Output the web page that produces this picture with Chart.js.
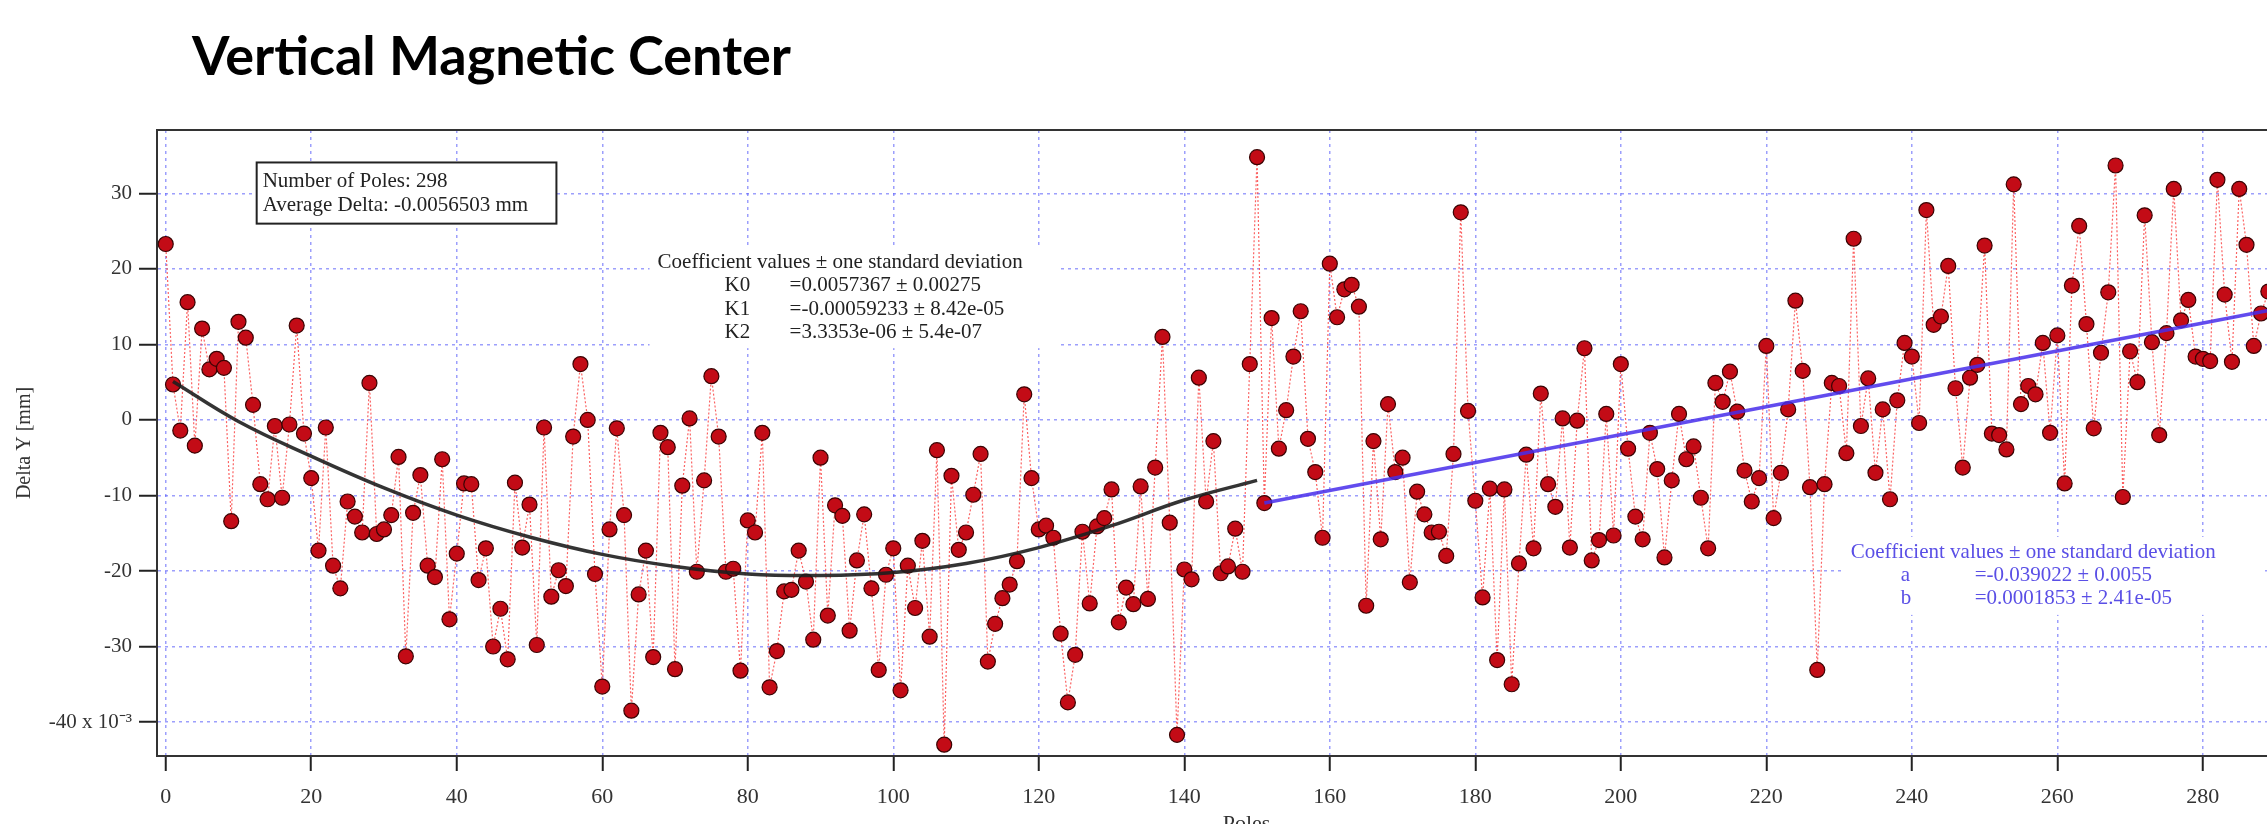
<!DOCTYPE html>
<html>
<head>
<meta charset="utf-8">
<title>Vertical Magnetic Center</title>
<script src="https://cdn.jsdelivr.net/npm/chart.js@4.4.1/dist/chart.umd.min.js"></script>
<style>
  html, body { margin: 0; padding: 0; background: #fff; overflow: hidden; }
  #wrap { position: absolute; left: 0; top: 0; width: 2350px; height: 850px; }
  #title {
    position: absolute; left: 192px; top: 28px;
    font: bold 54px Lato, "Open Sans", sans-serif; line-height: 54px;
    color: #000; white-space: nowrap;
  }
</style>
</head>
<body>
<div id="wrap"><canvas id="myChart"></canvas></div>
<div id="title">Vertical Magnetic Center</div>
<script>
// Delta Y per pole (x 10^-3 mm), pole number = index in the array
const deltaY = [
  23.3, 4.7, -1.4, 15.6, -3.4, 12.1, 6.7, 8.1, 6.9, -13.4,
  13.0, 10.9, 2.0, -8.5, -10.5, -0.8, -10.3, -0.6, 12.5, -1.8,
  -7.7, -17.3, -1.0, -19.3, -22.3, -10.8, -12.8, -14.9, 4.9, -15.1,
  -14.5, -12.6, -4.9, -31.3, -12.3, -7.3, -19.3, -20.8, -5.2, -26.4,
  -17.7, -8.4, -8.5, -21.2, -17.0, -30.0, -25.0, -31.7, -8.3, -16.9,
  -11.2, -29.8, -1.0, -23.4, -19.9, -22.0, -2.2, 7.4, 0.0, -20.4,
  -35.3, -14.5, -1.1, -12.6, -38.5, -23.1, -17.3, -31.4, -1.7, -3.6,
  -33.0, -8.7, 0.2, -20.1, -8.0, 5.8, -2.2, -20.1, -19.7, -33.2,
  -13.3, -14.9, -1.7, -35.4, -30.6, -22.7, -22.5, -17.3, -21.4, -29.1,
  -5.0, -25.9, -11.3, -12.7, -27.9, -18.6, -12.5, -22.3, -33.1, -20.5,
  -17.0, -35.8, -19.3, -24.9, -16.0, -28.7, -4.0, -43.0, -7.4, -17.2,
  -14.9, -9.9, -4.5, -32.0, -27.0, -23.6, -21.8, -18.7, 3.4, -7.7,
  -14.5, -14.0, -15.6, -28.3, -37.4, -31.1, -14.8, -24.3, -14.1, -13.0,
  -9.2, -26.8, -22.2, -24.4, -8.8, -23.7, -6.3, 11.0, -13.6, -41.7,
  -19.8, -21.1, 5.6, -10.8, -2.8, -20.3, -19.4, -14.4, -20.1, 7.4,
  34.8, -11.0, 13.5, -3.8, 1.3, 8.4, 14.4, -2.5, -6.9, -15.6,
  20.7, 13.6, 17.3, 17.9, 15.0, -24.6, -2.8, -15.8, 2.1, -6.9,
  -5.0, -21.5, -9.5, -12.5, -14.9, -14.8, -18.0, -4.5, 27.5, 1.2,
  -10.7, -23.5, -9.1, -31.8, -9.2, -35.0, -19.0, -4.6, -17.0, 3.5,
  -8.5, -11.5, 0.2, -16.9, -0.1, 9.5, -18.6, -15.9, 0.8, -15.3,
  7.4, -3.8, -12.8, -15.8, -1.7, -6.5, -18.2, -8.0, 0.8, -5.2,
  -3.5, -10.3, -17.0, 4.9, 2.4, 6.4, 1.1, -6.7, -10.8, -7.7,
  9.8, -13.0, -7.0, 1.4, 15.8, 6.5, -8.9, -33.1, -8.5, 4.9,
  4.5, -4.4, 24.0, -0.8, 5.5, -7.0, 1.4, -10.5, 2.6, 10.2,
  8.4, -0.4, 27.8, 12.6, 13.7, 20.4, 4.2, -6.3, 5.6, 7.3,
  23.1, -1.8, -2.0, -3.9, 31.2, 2.1, 4.5, 3.4, 10.2, -1.7,
  11.2, -8.4, 17.8, 25.7, 12.7, -1.1, 8.9, 16.9, 33.7, -10.2,
  9.1, 5.0, 27.1, 10.3, -2.0, 11.5, 30.6, 13.2, 15.9, 8.4,
  8.1, 7.8, 31.8, 16.6, 7.7, 30.6, 23.2, 9.8, 14.1, 17.0,
];

// black curve (quadratic fit, poles 1-150)
const quadFitPoles = [1, 10, 20, 30, 40, 50, 60, 70, 80, 90, 100, 110, 120, 130, 140, 150];
const quadFitValues = [5.1, -0.2, -4.8, -9.0, -12.6, -15.5, -17.8, -19.4, -20.4, -20.6, -20.2, -19.0, -16.9, -14.0, -10.6, -8.0];

// blue line (linear fit, poles 151 onwards)
const linFitPoles = [151, 289];
const linFitValues = [-11.0, 14.5];

const xTickValues = [0, 20, 40, 60, 80, 100, 120, 140, 160, 180, 200, 220, 240, 260, 280];
const yTickValues = [-40, -30, -20, -10, 0, 10, 20, 30];

const infoLines = ["Number of Poles: 298", "Average Delta: -0.0056503 mm"];
const quadCoefs = [
  ["K0", "=0.0057367 \u00b1 0.00275"],
  ["K1", "=-0.00059233 \u00b1 8.42e-05"],
  ["K2", "=3.3353e-06 \u00b1 5.4e-07"],
];
const linCoefs = [
  ["a", "=-0.039022 \u00b1 0.0055"],
  ["b", "=0.0001853 \u00b1 2.41e-05"],
];
const coefHeader = "Coefficient values \u00b1 one standard deviation";

Chart.defaults.font.family = '"Liberation Serif", "Times New Roman", serif';
Chart.defaults.color = "#333";

// text boxes of the original graph + top/right frame
const notesPlugin = {
  id: "notes",
  afterDatasetsDraw(chart) {
    const { ctx, chartArea: area, scales: { x, y } } = chart;
    ctx.save();
    ctx.strokeStyle = "#333";
    ctx.lineWidth = 2;
    ctx.beginPath();
    ctx.moveTo(area.left, area.top);
    ctx.lineTo(area.right, area.top);
    ctx.lineTo(area.right, area.bottom);
    ctx.stroke();

    ctx.font = '21px "Liberation Serif"';
    ctx.textBaseline = "middle";
    ctx.textAlign = "left";

    // poles / average box
    let l = x.getPixelForValue(12.5), t = y.getPixelForValue(34.1);
    let r = x.getPixelForValue(53.7), b = y.getPixelForValue(26.0);
    ctx.fillStyle = "#fff";
    ctx.fillRect(l, t, r - l, b - t);
    ctx.lineWidth = 2;
    ctx.strokeStyle = "#222";
    ctx.strokeRect(l, t, r - l, b - t);
    ctx.fillStyle = "#222";
    infoLines.forEach((s, i) => ctx.fillText(s, l + 6, t + 19 + i * 24));

    // quadratic fit coefficients
    l = x.getPixelForValue(67.6);
    t = y.getPixelForValue(20.9);
    ctx.fillStyle = "#fff";
    ctx.fillRect(l - 8, t - 16, 410, 102);
    ctx.fillStyle = "#222";
    ctx.fillText(coefHeader, l, t);
    quadCoefs.forEach((c, i) => {
      ctx.fillText(c[0], l + 67, t + 23.5 * (i + 1));
      ctx.fillText(c[1], l + 132, t + 23.5 * (i + 1));
    });

    // linear fit coefficients
    l = x.getPixelForValue(231.6);
    t = y.getPixelForValue(-17.6);
    ctx.fillStyle = "#fff";
    ctx.fillRect(l - 8, t - 16, 420, 78);
    ctx.fillStyle = "#5a4fe6";
    ctx.fillText(coefHeader, l, t);
    linCoefs.forEach((c, i) => {
      ctx.fillText(c[0], l + 50, t + 23 * (i + 1));
      ctx.fillText(c[1], l + 124, t + 23 * (i + 1));
    });
    ctx.restore();
  },
};

const gridStyle = {
  color: "rgba(90, 95, 250, 0.6)",
  lineWidth: 1.5,
  tickColor: "#222",
  tickWidth: 2,
  tickBorderDash: [],
};

const ctx = document.getElementById("myChart");
const myChart = new Chart(ctx, {
  type: "scatter",
  data: {
    datasets: [
      {
        label: "Quadratic fit",
        data: quadFitPoles.map((p, i) => ({ x: p, y: quadFitValues[i] })),
        showLine: true,
        borderColor: "rgba(30, 30, 30, 0.9)",
        borderWidth: 3.5,
        tension: 0.4,
        pointRadius: 0,
      },
      {
        label: "Linear fit",
        data: linFitPoles.map((p, i) => ({ x: p, y: linFitValues[i] })),
        showLine: true,
        borderColor: "rgba(70, 45, 235, 0.85)",
        borderWidth: 3.5,
        pointRadius: 0,
      },
      {
        label: "Delta Y",
        data: deltaY.map((v, i) => ({ x: i, y: v })),
        showLine: true,
        borderColor: "rgba(250, 70, 70, 0.85)",
        borderWidth: 1.2,
        borderDash: [2, 2],
        pointRadius: 7.5,
        pointBackgroundColor: "#c30b16",
        pointBorderColor: "#3a0404",
        pointBorderWidth: 1.2,
      },
    ],
  },
  options: {
    responsive: true,
    maintainAspectRatio: false,
    animation: false,
    layout: { padding: { top: 130, left: 0, right: 14, bottom: 0 } },
    plugins: {
      legend: { display: false },
      tooltip: { enabled: false },
    },
    scales: {
      x: {
        type: "linear",
        min: -1.2,
        max: 298.3,
        afterBuildTicks: (scale) => {
          scale.ticks = xTickValues.map((v) => ({ value: v }));
        },
        afterFit: (scale) => {
          scale.height = 94;
        },
        ticks: {
          padding: 13,
          font: { size: 22 },
          color: "#333",
          maxRotation: 0,
          callback: (v) => String(v),
        },
        grid: Object.assign({ tickLength: 15 }, gridStyle),
        border: { color: "#333", width: 2, dash: [3, 4] },
        title: {
          display: true,
          text: "Poles",
          font: { size: 22 },
          color: "#333",
          padding: { top: 0, bottom: 13 },
        },
      },
      y: {
        type: "linear",
        min: -44.5,
        max: 38.4,
        afterBuildTicks: (scale) => {
          scale.ticks = yTickValues.map((v) => ({ value: v }));
        },
        afterFit: (scale) => {
          scale.width = 157;
        },
        ticks: {
          padding: 7,
          font: { size: 21 },
          color: "#333",
          callback: (v) => (v === -40 ? "-40 x 10\u207b\u00b3" : String(v)),
        },
        grid: Object.assign({ tickLength: 18 }, gridStyle),
        border: { color: "#333", width: 2, dash: [3, 4] },
        title: {
          display: true,
          text: "Delta Y [mm]",
          font: { size: 20 },
          color: "#333",
          padding: { top: 13, bottom: 0 },
        },
      },
    },
  },
  plugins: [notesPlugin],
});
</script>
</body>
</html>
